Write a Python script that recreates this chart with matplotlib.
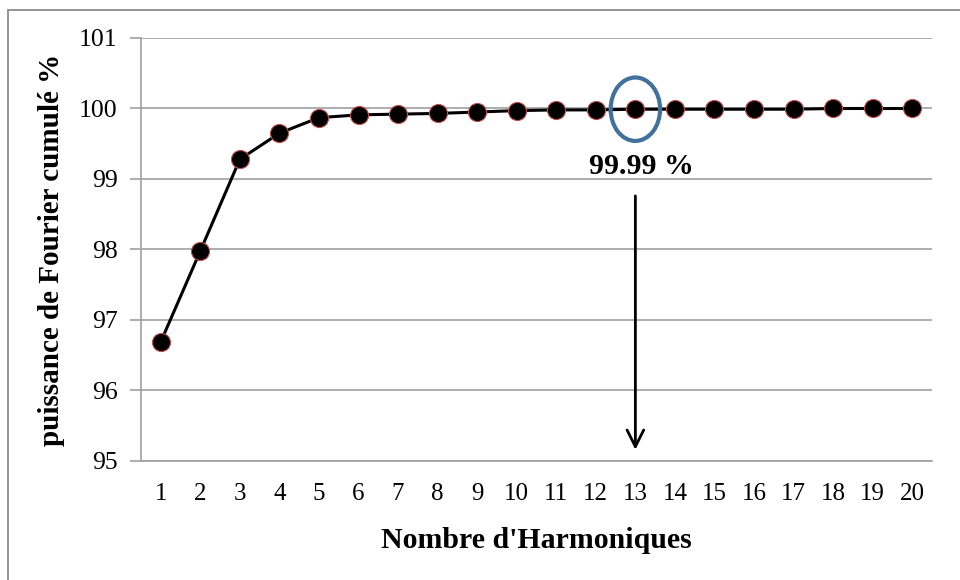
import matplotlib.pyplot as plt
from matplotlib.patches import Ellipse, Rectangle

# data
harmoniques = list(range(1, 21))
puissance = [96.69, 97.98, 99.28, 99.65, 99.87, 99.91, 99.92, 99.93, 99.95, 99.97,
             99.98, 99.98, 99.99, 99.99, 99.99, 99.99, 99.99, 100.0, 100.0, 100.0]
y_ticks = [95, 96, 97, 98, 99, 100, 101]
idx_marque = 12  # harmonic 13
texte_marque = "99.99 %"

plt.rcParams["font.family"] = ["Liberation Serif", "DejaVu Serif"]

fig = plt.figure(figsize=(9.6, 5.8), dpi=100)
ax = fig.add_axes([141 / 960, 1 - 461 / 580, (932 - 141) / 960, (461 - 38) / 580])

# outer chart frame
fig.patches.append(Rectangle((8 / 960, -0.05), 1.1, 1 - 10 / 580 + 0.05,
                             transform=fig.transFigure, fill=False,
                             edgecolor="#8c8c8c", linewidth=1.3))

ax.plot(harmoniques, puissance, color="black", linewidth=2.2, marker="o",
        markersize=13, markerfacecolor="black", markeredgecolor="#c0504d",
        markeredgewidth=0.8, zorder=3)

ax.set_xlim(0.5, 20.5)
ax.set_ylim(95, 101)
ax.set_yticks(y_ticks)
ax.set_xticks(harmoniques)
ax.yaxis.grid(True, color="#a0a0a0", linewidth=1.2)
ax.set_axisbelow(True)
for s in ["top", "right"]:
    ax.spines[s].set_visible(False)
ax.spines["left"].set_color("#a0a0a0")
ax.spines["bottom"].set_color("#a0a0a0")
ax.spines["left"].set_linewidth(1.2)
ax.spines["bottom"].set_linewidth(1.2)
ax.tick_params(axis="y", length=8, color="#a0a0a0", width=1.2, labelsize=18.5, pad=9)
ax.tick_params(axis="x", length=0, labelsize=18, pad=16)

ax.set_xlabel("Nombre d'Harmoniques", fontsize=21.5, fontweight="bold", labelpad=16)
ax.set_ylabel("puissance de Fourier cumulé %", fontsize=21, fontweight="bold", labelpad=10)

# highlight harmonic 13
x0 = harmoniques[idx_marque]
y0 = puissance[idx_marque]
ax.add_patch(Ellipse((x0, y0), 1.25, 0.9, fill=False, edgecolor="#41719c",
                     linewidth=3, zorder=4))
ax.text(x0 + 0.15, 99.18, texte_marque, ha="center", va="center", fontsize=21.5,
        fontweight="bold")
ax.annotate("", xy=(x0, 95.12), xytext=(x0, 98.8),
            arrowprops=dict(arrowstyle="->", color="black", lw=2,
                            mutation_scale=30))

fig.savefig("out.png", dpi=100)
